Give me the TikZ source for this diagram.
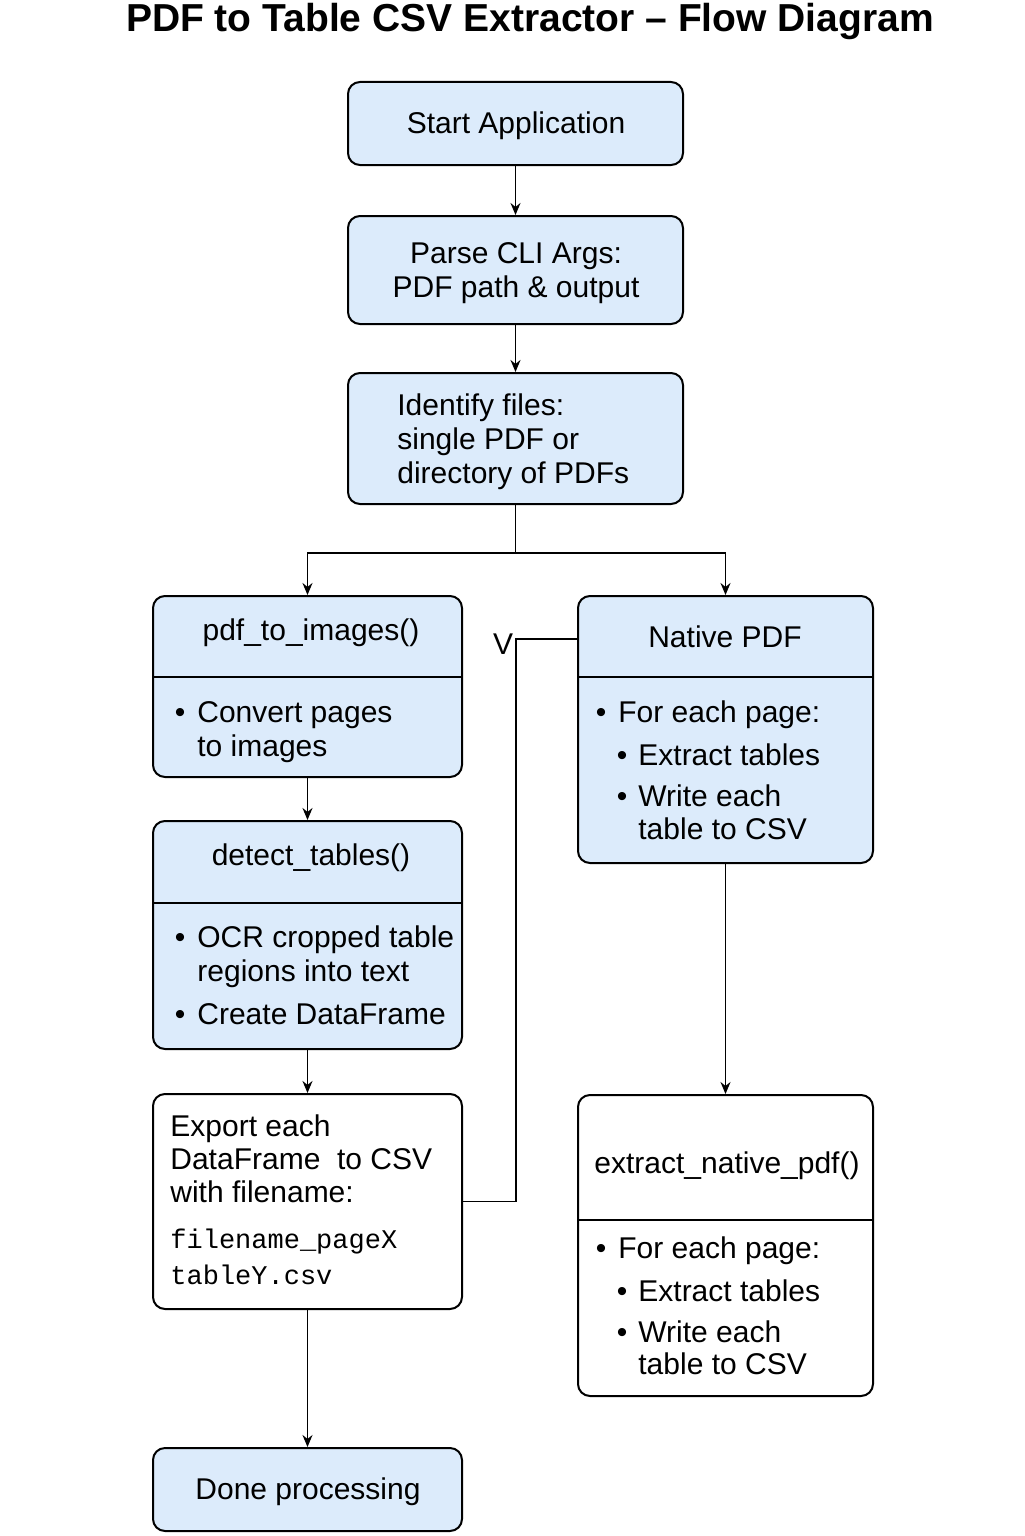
\documentclass[tikz,border=0pt]{standalone}
\usepackage{fontspec}
\setmainfont{Liberation Sans}
\newfontfamily\codefont{Liberation Mono}
\usetikzlibrary{positioning, arrows.meta}

\definecolor{boxblue}{HTML}{DCEBFB}

\tikzset{
    flowbox/.style={draw, line width=1pt, rounded corners=6pt, fill=boxblue, inner sep=0pt},
    plainbox/.style={flowbox, fill=white},
    txt/.style={inner sep=0pt, text height=10.5pt, text depth=3pt, font=\fontsize{15}{17}\selectfont},
    lefttxt/.style={txt, anchor=west},
    codetxt/.style={inner sep=0pt, anchor=west, text height=10pt, text depth=3pt, font=\codefont\fontsize{13.5}{16}\selectfont},
    line/.style={line width=0.8pt},
    conn/.style={line, -{Stealth[length=6pt, width=5pt]}},
    divider/.style={line width=0.8pt},
}

\begin{document}
\begin{tikzpicture}[x=0.5pt, y=-0.5pt]
    \useasboundingbox (0,0) rectangle (1024,1536);

    % title
    \node[inner sep=0pt, font=\bfseries\fontsize{19.5}{22}\selectfont] (title) at (530,22) {PDF to Table CSV Extractor -- Flow Diagram};

    % top of the flow
    \node[flowbox, minimum width=167.5pt, minimum height=41.5pt] (start) at (515.5,123.5) {};
    \node[txt] (startlbl) at (516,126) {Start Application};

    \node[flowbox, minimum width=167.5pt, minimum height=54pt] (parse) at (515.5,270) {};
    \node[txt] (parselbl1) at (516,256) {Parse CLI Args:};
    \node[txt] (parselbl2) at (516,290) {PDF path \& output};

    \node[flowbox, minimum width=167.5pt, minimum height=65.5pt] (ident) at (515.5,438.5) {};
    \node[lefttxt] (identlbl1) at (397,408) {Identify files:};
    \node[lefttxt] (identlbl2) at (397,442) {single PDF or};
    \node[lefttxt] (identlbl3) at (397,476) {directory of PDFs};

    % left branch
    \node[flowbox, minimum width=154.5pt, minimum height=90.5pt] (pimg) at (307.5,686.5) {};
    \draw[divider] (pimg.west |- 0,677) -- (pimg.east |- 0,677);
    \node[txt] (pimglbl) at (311,633) {pdf\_to\_images()};
    \node[txt] (pimgdot) at (180,715) {\textbullet};
    \node[lefttxt] (pimgitem1) at (197,715) {Convert pages};
    \node[lefttxt] (pimgitem2) at (197,749) {to images};

    \node[flowbox, minimum width=154.5pt, minimum height=114pt] (detect) at (307.5,935) {};
    \draw[divider] (detect.west |- 0,903) -- (detect.east |- 0,903);
    \node[txt] (detectlbl) at (311,858) {detect\_tables()};
    \node[txt] (detectdot1) at (180,940) {\textbullet};
    \node[lefttxt] (detectitem1) at (197,940) {OCR cropped table};
    \node[lefttxt] (detectitem2) at (197,974) {regions into text};
    \node[txt] (detectdot2) at (180,1017) {\textbullet};
    \node[lefttxt] (detectitem3) at (197,1017) {Create DataFrame};

    \node[plainbox, minimum width=154.5pt, minimum height=107.5pt] (export) at (307.5,1201.5) {};
    \node[lefttxt] (exportlbl1) at (170,1129) {Export each};
    \node[lefttxt] (exportlbl2) at (170,1162) {DataFrame\ \ to CSV};
    \node[lefttxt] (exportlbl3) at (170,1195) {with filename:};
    \node[codetxt] (exportcode1) at (170,1241) {filename\_pageX};
    \node[codetxt] (exportcode2) at (170,1277) {tableY.csv};

    \node[flowbox, minimum width=154.5pt, minimum height=41.5pt] (done) at (307.5,1489.5) {};
    \node[txt] (donelbl) at (308,1492) {Done processing};

    % right branch
    \node[flowbox, minimum width=147.5pt, minimum height=133.5pt] (native) at (725.5,729.5) {};
    \draw[divider] (native.west |- 0,677) -- (native.east |- 0,677);
    \node[txt] (nativelbl) at (725,640) {Native PDF};
    \node[txt] (nativedot1) at (601,715) {\textbullet};
    \node[lefttxt] (nativeitem1) at (618,715) {For each page:};
    \node[txt] (nativedot2) at (622,758) {\textbullet};
    \node[lefttxt] (nativeitem2) at (638,758) {Extract tables};
    \node[txt] (nativedot3) at (622,799) {\textbullet};
    \node[lefttxt] (nativeitem3) at (638,799) {Write each};
    \node[lefttxt] (nativeitem4) at (638,832) {table to CSV};

    \node[plainbox, minimum width=147.5pt, minimum height=150.5pt] (extract) at (725.5,1245.5) {};
    \draw[divider] (extract.west |- 0,1220) -- (extract.east |- 0,1220);
    \node[txt] (extractlbl) at (727,1166) {extract\_native\_pdf()};
    \node[txt] (extractdot1) at (601,1251) {\textbullet};
    \node[lefttxt] (extractitem1) at (618,1251) {For each page:};
    \node[txt] (extractdot2) at (622,1294) {\textbullet};
    \node[lefttxt] (extractitem2) at (638,1294) {Extract tables};
    \node[txt] (extractdot3) at (622,1335) {\textbullet};
    \node[lefttxt] (extractitem3) at (638,1335) {Write each};
    \node[lefttxt] (extractitem4) at (638,1367) {table to CSV};

    % connectors
    \coordinate (split) at (515.5,553);
    \coordinate (bend) at (516,639);
    \draw[conn] (start) -- (parse);
    \draw[conn] (parse) -- (ident);
    \draw[line] (ident.south) -- (split);
    \draw[conn] (split) -| (pimg);
    \draw[conn] (split) -| (native);
    \draw[conn] (pimg) -- (detect);
    \draw[conn] (detect) -- (export);
    \draw[conn] (export) -- (done);
    \draw[conn] (native) -- (extract);
    \draw[line] (export.east) -| (bend) -- (bend -| native.west);
    \node[txt] (vmark) at (503,647) {V};
\end{tikzpicture}
\end{document}
